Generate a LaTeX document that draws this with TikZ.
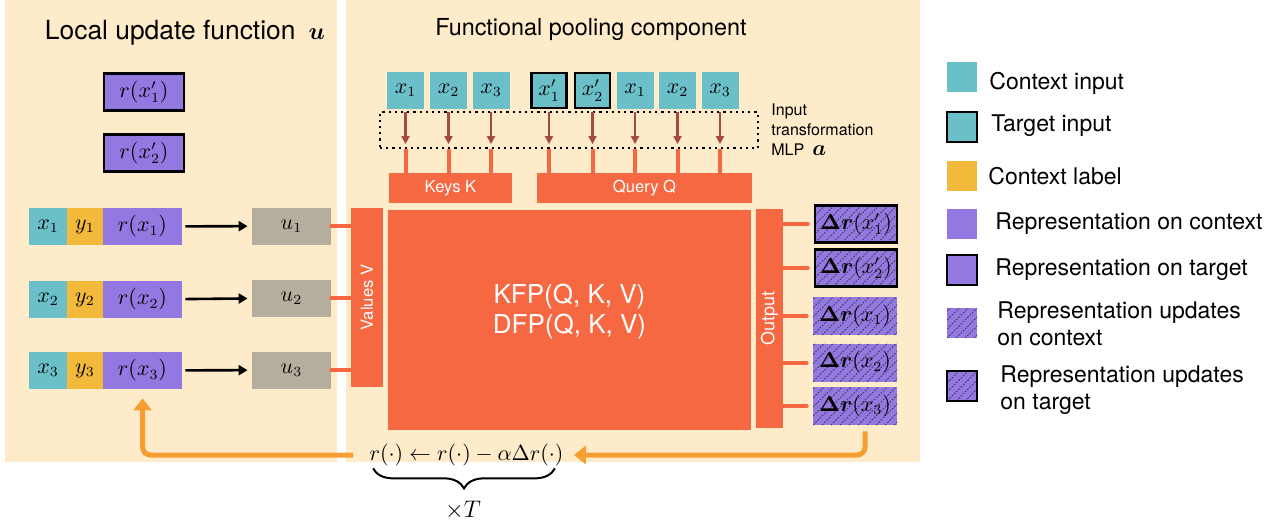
\documentclass[tikz,border=0pt]{standalone}
\usepackage{amsmath}
\usepackage{amssymb}
\usepackage[no-math]{fontspec}
\setmainfont{TeX Gyre Heros}
\usetikzlibrary{arrows.meta,decorations.pathreplacing}
\definecolor{panelbg}{RGB}{254,235,201}
\definecolor{ctxteal}{RGB}{106,191,200}
\definecolor{ctxyellow}{RGB}{242,185,59}
\definecolor{reprpurple}{RGB}{148,120,226}
\definecolor{ugrey}{RGB}{181,174,158}
\definecolor{poolred}{RGB}{246,104,66}
\definecolor{feedorange}{RGB}{247,158,48}
\definecolor{mlpbrown}{RGB}{164,74,63}

\begin{document}
\begin{tikzpicture}[x=0.5pt,y=-0.5pt,
  every node/.style={inner sep=0pt},
  cell/.style={minimum height=18.5pt,font=\fontsize{10.5}{12}\selectfont},
  tcell/.style={cell,draw=black,line width=1.2pt},
  hatch/.style={path picture={
    \foreach \k in {-8,...,14}
      \draw[black!80,dash pattern=on 0.9pt off 0.7pt,line width=0.35pt]
        ([xshift=\k*4.5pt]path picture bounding box.south west) -- ++(30pt,30pt);}},
  bar/.style={fill=poolred},
  bartext/.style={text=white,font=\fontsize{8.3}{10}\selectfont},
  link/.style={draw=poolred,line width=2pt,line cap=round},
  feed/.style={draw=feedorange,line width=2.5pt,rounded corners=4pt,-{Triangle[length=6pt,width=9pt]}},
  legbox/.style={minimum width=15pt,minimum height=15pt},
  legtext/.style={anchor=west,align=left,font=\fontsize{11.5}{13.5}\selectfont}
]
\useasboundingbox (0,0) rectangle (1279,525);
\fill[panelbg] (5,0) rectangle (337,462);
\fill[panelbg] (346,0) rectangle (920,462);

\node[font=\fontsize{13.2}{15}\selectfont] (loctitle) at (185,33) {Local update function\enspace$\boldsymbol{u}$};
\node[font=\fontsize{11.7}{14}\selectfont] (funtitle) at (591,30) {Functional pooling component};

\node[tcell,fill=reprpurple,minimum width=40pt] (t1) at (144,92) {$r(x'_1)$};
\node[tcell,fill=reprpurple,minimum width=40pt] (t2) at (144,153) {$r(x'_2)$};

\node[cell,fill=ctxteal,minimum width=19pt] (x1) at (48,226.5) {$x_1$};
\node[cell,fill=ctxyellow,minimum width=18pt] (y1) at (85,226.5) {$y_1$};
\node[cell,fill=reprpurple,minimum width=39.5pt] (r1) at (142.5,226.5) {$r(x_1)$};
\node[cell,fill=ugrey,minimum width=39.5pt] (u1) at (291.5,226) {$u_1$};
\node[cell,fill=ctxteal,minimum width=19pt] (x2) at (48,299.5) {$x_2$};
\node[cell,fill=ctxyellow,minimum width=18pt] (y2) at (85,299.5) {$y_2$};
\node[cell,fill=reprpurple,minimum width=39.5pt] (r2) at (142.5,299.5) {$r(x_2)$};
\node[cell,fill=ugrey,minimum width=39.5pt] (u2) at (291.5,298) {$u_2$};
\node[cell,fill=ctxteal,minimum width=19pt] (x3) at (48,370.5) {$x_3$};
\node[cell,fill=ctxyellow,minimum width=18pt] (y3) at (85,370.5) {$y_3$};
\node[cell,fill=reprpurple,minimum width=39.5pt] (r3) at (142.5,370.5) {$r(x_3)$};
\node[cell,fill=ugrey,minimum width=39.5pt] (u3) at (291.5,370) {$u_3$};

\draw[line width=1.3pt,-{Triangle[length=4.5pt,width=5pt]},shorten <=1.5pt,shorten >=2pt] (r1) -- (u1);
\draw[line width=1.3pt,-{Triangle[length=4.5pt,width=5pt]},shorten <=1.5pt,shorten >=2pt] (r2) -- (u2);
\draw[line width=1.3pt,-{Triangle[length=4.5pt,width=5pt]},shorten <=1.5pt,shorten >=2pt] (r3) -- (u3);

\node[cell,fill=ctxteal,minimum width=18.5pt] (k1) at (405.5,90.5) {$x_1$};
\node[cell,fill=ctxteal,minimum width=18.5pt] (k2) at (448.5,90.5) {$x_2$};
\node[cell,fill=ctxteal,minimum width=18.5pt] (k3) at (491,90.5) {$x_3$};
\node[tcell,fill=ctxteal,minimum width=17.5pt,minimum height=17.5pt] (q1) at (549,90.5) {$x'_1$};
\node[tcell,fill=ctxteal,minimum width=17.5pt,minimum height=17.5pt] (q2) at (592.5,90.5) {$x'_2$};
\node[cell,fill=ctxteal,minimum width=18.5pt] (q3) at (635,90.5) {$x_1$};
\node[cell,fill=ctxteal,minimum width=18.5pt] (q4) at (677.5,90.5) {$x_2$};
\node[cell,fill=ctxteal,minimum width=18.5pt] (q5) at (720,90.5) {$x_3$};

\node[draw,dotted,line width=1.1pt,minimum width=189pt,minimum height=18pt] (mlp) at (569,130) {};
\node[anchor=west,align=left,font=\fontsize{8}{10}\selectfont] (mlptext) at (771,130)
  {Input\\transformation\\MLP\enspace{\fontsize{11}{10}\selectfont$\boldsymbol{a}$}};

\node[bar,minimum width=61.5pt,minimum height=15pt,bartext] (keys) at (450.5,188) {Keys K};
\node[bar,minimum width=107.5pt,minimum height=15pt,bartext] (query) at (644.5,188) {Query Q};

\foreach \n in {k1,k2,k3,q1,q2,q3,q4,q5} {
  \draw[mlpbrown,line width=1.2pt,-{Triangle[length=4pt,width=4pt]},shorten <=1.5pt,shorten >=2.5pt]
    (\n.south) -- (\n.south |- mlp.south);
}
\draw[poolred,line width=2pt] (k1 |- mlp.south) -- (k1 |- keys.north);
\draw[poolred,line width=2pt] (k2 |- mlp.south) -- (k2 |- keys.north);
\draw[poolred,line width=2pt] (k3 |- mlp.south) -- (k3 |- keys.north);
\draw[poolred,line width=2pt] (q1 |- mlp.south) -- (q1 |- query.north);
\draw[poolred,line width=2pt] (q2 |- mlp.south) -- (q2 |- query.north);
\draw[poolred,line width=2pt] (q3 |- mlp.south) -- (q3 |- query.north);
\draw[poolred,line width=2pt] (q4 |- mlp.south) -- (q4 |- query.north);
\draw[poolred,line width=2pt] (q5 |- mlp.south) -- (q5 |- query.north);

\node[bar,minimum width=16pt,minimum height=89.5pt,
  label={[rotate=90,bartext]center:Values V}] (vals) at (367,297.5) {};
\node[bar,minimum width=181.5pt,minimum height=110pt,
  label={[yshift=4pt,align=center,text=white,font=\fontsize{13}{15}\selectfont]center:KFP(Q, K, V)\\DFP(Q, K, V)}] (fp) at (569.5,320) {};
\node[bar,minimum width=13.5pt,minimum height=109.5pt,
  label={[rotate=90,bartext,font=\fontsize{9}{10}\selectfont]center:Output}] (outp) at (769.5,318.5) {};

\draw[link] (u1.east) -- (u1.east -| vals.west);
\draw[link] (u2.east) -- (u2.east -| vals.west);
\draw[link] (u3.east) -- (u3.east -| vals.west);

\node[tcell,fill=reprpurple,hatch,minimum width=41pt] (d1) at (856,224) {$\boldsymbol{\Delta r}(x'_1)$};
\node[tcell,fill=reprpurple,hatch,minimum width=41pt] (d2) at (856,268) {$\boldsymbol{\Delta r}(x'_2)$};
\node[cell,fill=reprpurple,hatch,minimum width=42pt,minimum height=19pt] (d3) at (855,316) {$\boldsymbol{\Delta r}(x_1)$};
\node[cell,fill=reprpurple,hatch,minimum width=42pt,minimum height=19pt] (d4) at (855,362.5) {$\boldsymbol{\Delta r}(x_2)$};
\node[cell,fill=reprpurple,hatch,minimum width=42pt,minimum height=19pt] (d5) at (855,406) {$\boldsymbol{\Delta r}(x_3)$};

\draw[link,shorten >=3pt] (d1.west -| outp.east) -- (d1.west);
\draw[link,shorten >=3pt] (d2.west -| outp.east) -- (d2.west);
\draw[link,shorten >=3pt] (d3.west -| outp.east) -- (d3.west);
\draw[link,shorten >=3pt] (d4.west -| outp.east) -- (d4.west);
\draw[link,shorten >=3pt] (d5.west -| outp.east) -- (d5.west);

\node[font=\fontsize{11}{13}\selectfont] (upd) at (466.5,455) {$r(\cdot) \leftarrow r(\cdot) - \alpha\Delta r(\cdot)$};
\draw[feed,shorten <=3pt,shorten >=5pt] ([xshift=5pt]d5.south) |- (upd.east);
\draw[feed,shorten <=8pt,shorten >=4.5pt] (upd.west) -| (r3.south);
\draw[line width=1pt,decorate,decoration={brace,mirror,amplitude=10pt}]
  ([xshift=2pt,yshift=-1pt]upd.south west) -- ([xshift=-4.5pt,yshift=-1pt]upd.south east);
\node[font=\fontsize{12.5}{14}\selectfont] (reps) at (463,510) {$\times T$};

\node[legbox,fill=ctxteal] (lg1) at (962,77) {};
\node[legbox,fill=ctxteal,draw=black,line width=1.2pt] (lg2) at (962,127) {};
\node[legbox,fill=ctxyellow] (lg3) at (962,176) {};
\node[legbox,fill=reprpurple] (lg4) at (962,224) {};
\node[legbox,fill=reprpurple,draw=black,line width=1.2pt] (lg5) at (962,270) {};
\node[legbox,fill=reprpurple,hatch] (lg6) at (962,323) {};
\node[legbox,fill=reprpurple,hatch,draw=black,line width=1.2pt] (lg7) at (962,386) {};

\node[legtext] (lt1) at (989,83) {Context input};
\node[legtext] (lt2) at (991,126) {Target input};
\node[legtext] (lt3) at (988,176.5) {Context label};
\node[legtext] (lt4) at (995,223.5) {Representation on context};
\node[legtext] (lt5) at (995,270) {Representation on target};
\node[legtext] (lt6) at (997,324) {Representation updates\\on context};
\node[legtext] (lt7) at (1000,390) {Representation updates\\on target};
\end{tikzpicture}
\end{document}
